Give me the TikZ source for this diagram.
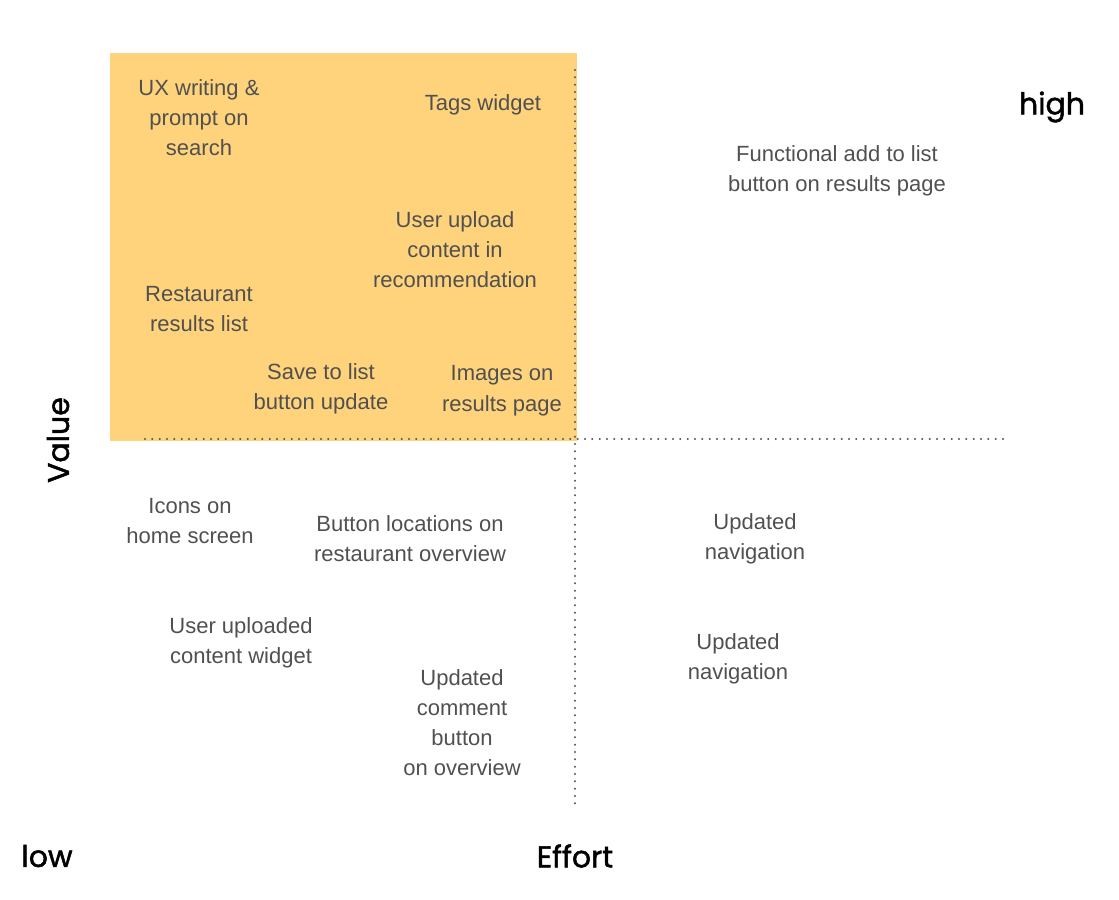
\documentclass[tikz,border=0pt]{standalone}
\usepackage{fontspec}
\setmainfont{Liberation Sans}
\newfontfamily\axisfont[FakeBold=1.6]{Poppins}
\usetikzlibrary{positioning}
\definecolor{quickwin}{HTML}{FED37B}
\definecolor{itemgrey}{HTML}{505050}
\definecolor{gridgrey}{HTML}{555555}
\tikzset{
	item/.style={
		align=center,
		text=itemgrey,
		inner sep=0pt,
		yshift=-2pt,
		font=\fontsize{16.5}{22.6}\selectfont,
	},
	axislabel/.style={
		inner sep=0pt,
		text=black,
		font=\axisfont\fontsize{22.5}{26}\selectfont,
	},
	divider/.style={
		draw=gridgrey,
		line width=1.7pt,
		line cap=round,
		dash pattern=on 0pt off 5.5pt,
	},
}

\begin{document}
\begin{tikzpicture}[x=0.75pt,y=-0.75pt]
		\useasboundingbox (0,0) rectangle (1119,899);

		\fill[quickwin] (110,53) rectangle (577,441);

		\draw[divider] (575,70) -- (575,810);
		\draw[divider] (145,439) -- (1005,439);

%*********

		\node[item] (uxwriting) at (199,115) {UX writing \&\\prompt on\\search};
		\node[item] (tags) at (483,102) {Tags widget};
		\node[item] (upload) at (455,247) {User upload\\content in\\recommendation};
		\node[item] (reslist) at (199,306) {Restaurant\\results list};
		\node[item] (savelist) at (321,386) {Save to list\\button update};
		\node[item] (images) at (502,388) {Images on\\results page};

		\node[item] (addlist) at (837,168) {Functional add to list\\button on results page};

%*********

		\node[item] (icons) at (190,518) {Icons on\\home screen};
		\node[item] (btnloc) at (410,536) {Button locations on\\restaurant overview};
		\node[item] (uploadwidget) at (241,640) {User uploaded\\content widget};
		\node[item] (comment) at (462,720) {Updated\\comment\\button\\on overview};

		\node[item] (nav) at (755,536) {Updated\\navigation};
		\node[item] (nav2) at (738,656) {Updated\\navigation};

%*********

		\node[axislabel] (high) at (1052,107) {high};
		\node[axislabel] (low) at (47,856) {low};
		\node[axislabel] (effort) at (575,856) {Effort};
		\node[axislabel,rotate=90] (value) at (58,440) {Value};

	\end{tikzpicture}
\end{document}
